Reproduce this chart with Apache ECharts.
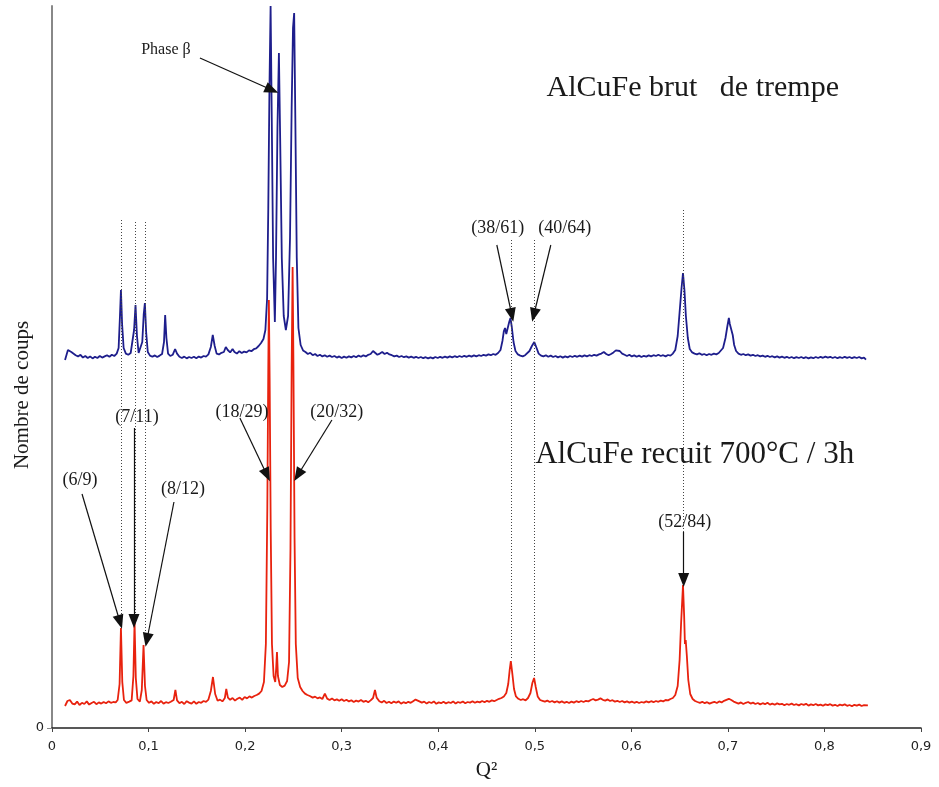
<!DOCTYPE html>
<html>
<head>
<meta charset="utf-8">
<script src="https://cdn.jsdelivr.net/npm/echarts@6/dist/echarts.min.js"></script>
<style>html,body{margin:0;padding:0;background:#fff}#c{width:939px;height:787px}</style>
</head>
<body>
<div id="c"></div>
<script>
// ---------- data ----------
const xTickLabels = ['0','0,1','0,2','0,3','0,4','0,5','0,6','0,7','0,8','0,9'];

// AlCuFe recuit 700°C / 3h (red)
const redQ = [0.0135,0.0160,0.0185,0.0210,0.0235,0.0260,0.0285,0.0310,0.0335,0.0360,0.0385,0.0410,0.0435,0.0460,0.0485,0.0510,0.0535,0.0560,0.0585,0.0610,0.0635,0.0660,0.0680,0.0700,0.0714,0.0728,0.0745,0.0770,0.0800,0.0825,0.0843,0.0855,0.0868,0.0885,0.0910,0.0930,0.0948,0.0963,0.0980,0.1005,0.1030,0.1055,0.1080,0.1105,0.1130,0.1155,0.1180,0.1205,0.1230,0.1260,0.1278,0.1295,0.1320,0.1345,0.1370,0.1395,0.1420,0.1445,0.1470,0.1495,0.1520,0.1545,0.1570,0.1595,0.1620,0.1645,0.1667,0.1690,0.1715,0.1740,0.1765,0.1790,0.1805,0.1822,0.1845,0.1870,0.1895,0.1920,0.1945,0.1970,0.1995,0.2020,0.2045,0.2070,0.2095,0.2120,0.2145,0.2170,0.2195,0.2215,0.2230,0.2240,0.2246,0.2254,0.2265,0.2278,0.2295,0.2312,0.2322,0.2330,0.2340,0.2360,0.2385,0.2410,0.2435,0.2455,0.2470,0.2482,0.2492,0.2500,0.2512,0.2525,0.2545,0.2570,0.2595,0.2620,0.2645,0.2670,0.2700,0.2725,0.2750,0.2775,0.2800,0.2826,0.2850,0.2875,0.2900,0.2925,0.2950,0.2975,0.3000,0.3025,0.3050,0.3075,0.3100,0.3125,0.3150,0.3175,0.3200,0.3225,0.3250,0.3275,0.3300,0.3325,0.3345,0.3362,0.3390,0.3415,0.3440,0.3465,0.3490,0.3515,0.3540,0.3565,0.3590,0.3615,0.3640,0.3665,0.3690,0.3715,0.3740,0.3765,0.3785,0.3805,0.3830,0.3855,0.3880,0.3905,0.3930,0.3955,0.3980,0.4005,0.4030,0.4055,0.4080,0.4105,0.4130,0.4155,0.4180,0.4205,0.4230,0.4255,0.4280,0.4305,0.4330,0.4355,0.4380,0.4405,0.4430,0.4455,0.4480,0.4505,0.4530,0.4555,0.4580,0.4605,0.4630,0.4655,0.4680,0.4705,0.4725,0.4740,0.4752,0.4768,0.4785,0.4805,0.4830,0.4855,0.4880,0.4905,0.4930,0.4955,0.4975,0.4993,0.5010,0.5030,0.5055,0.5080,0.5105,0.5130,0.5155,0.5180,0.5205,0.5230,0.5255,0.5280,0.5305,0.5330,0.5355,0.5380,0.5405,0.5430,0.5455,0.5480,0.5505,0.5530,0.5555,0.5580,0.5605,0.5630,0.5655,0.5680,0.5705,0.5730,0.5755,0.5780,0.5805,0.5830,0.5855,0.5880,0.5905,0.5930,0.5955,0.5980,0.6005,0.6030,0.6055,0.6080,0.6105,0.6130,0.6155,0.6180,0.6205,0.6230,0.6255,0.6280,0.6305,0.6330,0.6355,0.6380,0.6405,0.6430,0.6455,0.6480,0.6500,0.6515,0.6535,0.6547,0.6555,0.6563,0.6575,0.6590,0.6610,0.6635,0.6660,0.6685,0.6710,0.6735,0.6760,0.6785,0.6810,0.6835,0.6860,0.6885,0.6910,0.6935,0.6960,0.6985,0.7010,0.7035,0.7060,0.7085,0.7110,0.7135,0.7160,0.7185,0.7210,0.7235,0.7260,0.7285,0.7310,0.7335,0.7360,0.7385,0.7410,0.7435,0.7460,0.7485,0.7510,0.7535,0.7560,0.7585,0.7610,0.7635,0.7660,0.7685,0.7710,0.7735,0.7760,0.7785,0.7810,0.7835,0.7860,0.7885,0.7910,0.7935,0.7960,0.7985,0.8010,0.8035,0.8060,0.8085,0.8110,0.8135,0.8160,0.8185,0.8210,0.8235,0.8260,0.8285,0.8310,0.8335,0.8360,0.8385,0.8410,0.8430,0.8450];
const redCounts = [110,135,140,122,118,132,115,126,120,133,117,125,131,119,128,122,130,124,133,126,130,128,140,220,500,230,140,126,132,138,260,530,250,145,132,190,415,210,140,126,133,121,130,124,135,122,129,125,131,140,190,138,124,131,120,134,127,122,133,121,130,126,135,131,142,185,255,170,136,142,133,150,195,152,141,150,137,146,152,141,155,148,158,152,160,165,172,185,230,420,1100,1800,2140,1750,1000,420,260,230,300,380,260,215,205,212,235,330,900,1800,2305,1850,950,420,250,205,185,172,165,160,152,157,148,153,145,172,147,140,148,138,143,136,144,135,141,133,139,130,137,132,140,131,136,129,138,150,190,152,134,128,136,125,131,124,132,126,133,122,129,124,131,126,134,142,150,133,127,132,122,130,125,133,121,128,124,131,123,129,125,133,122,130,126,132,124,130,127,134,126,132,128,135,129,136,131,138,134,140,146,150,158,175,220,290,335,270,195,158,146,140,144,138,150,175,225,250,205,158,140,136,132,137,130,135,128,134,127,133,126,131,125,132,127,134,129,135,130,136,133,140,145,138,142,148,141,137,143,135,139,132,136,130,135,128,133,127,132,126,131,125,130,127,133,128,134,129,135,131,137,133,140,138,145,150,165,210,340,520,715,560,420,440,360,240,170,145,135,130,126,131,124,129,122,127,131,125,133,128,136,141,146,140,132,127,122,128,120,126,130,122,127,120,125,118,124,119,126,117,122,116,123,118,121,114,120,116,122,115,119,113,120,116,121,112,118,114,120,113,117,111,118,114,119,112,116,110,117,113,118,111,115,109,116,112,117,110,114,108,113,110];

// AlCuFe brut de trempe (blue)
const blueQ = [0.0135,0.0150,0.0165,0.0180,0.0200,0.0220,0.0245,0.0270,0.0295,0.0320,0.0345,0.0370,0.0395,0.0420,0.0445,0.0470,0.0495,0.0520,0.0545,0.0570,0.0595,0.0620,0.0645,0.0670,0.0690,0.0703,0.0714,0.0726,0.0742,0.0765,0.0790,0.0815,0.0835,0.0850,0.0865,0.0880,0.0897,0.0915,0.0935,0.0950,0.0962,0.0975,0.0992,0.1015,0.1040,0.1065,0.1090,0.1115,0.1140,0.1160,0.1172,0.1185,0.1202,0.1225,0.1250,0.1275,0.1295,0.1320,0.1345,0.1370,0.1395,0.1420,0.1445,0.1470,0.1495,0.1520,0.1545,0.1570,0.1595,0.1620,0.1645,0.1665,0.1685,0.1705,0.1730,0.1755,0.1780,0.1800,0.1820,0.1845,0.1870,0.1890,0.1915,0.1940,0.1965,0.1990,0.2015,0.2040,0.2065,0.2090,0.2115,0.2140,0.2165,0.2190,0.2210,0.2228,0.2240,0.2252,0.2264,0.2276,0.2290,0.2308,0.2320,0.2335,0.2350,0.2363,0.2380,0.2400,0.2422,0.2445,0.2465,0.2482,0.2496,0.2508,0.2520,0.2535,0.2552,0.2575,0.2600,0.2625,0.2650,0.2675,0.2700,0.2725,0.2750,0.2775,0.2800,0.2825,0.2850,0.2875,0.2900,0.2925,0.2950,0.2975,0.3000,0.3025,0.3050,0.3075,0.3100,0.3125,0.3150,0.3175,0.3200,0.3225,0.3250,0.3275,0.3300,0.3325,0.3345,0.3370,0.3395,0.3420,0.3445,0.3470,0.3495,0.3520,0.3545,0.3570,0.3595,0.3620,0.3645,0.3670,0.3695,0.3720,0.3745,0.3770,0.3795,0.3820,0.3845,0.3870,0.3895,0.3920,0.3945,0.3970,0.3995,0.4020,0.4045,0.4070,0.4095,0.4120,0.4145,0.4170,0.4195,0.4220,0.4245,0.4270,0.4295,0.4320,0.4345,0.4370,0.4395,0.4420,0.4445,0.4470,0.4495,0.4520,0.4545,0.4570,0.4595,0.4620,0.4645,0.4665,0.4680,0.4692,0.4705,0.4718,0.4735,0.4748,0.4762,0.4780,0.4800,0.4825,0.4850,0.4875,0.4900,0.4920,0.4945,0.4970,0.4995,0.5015,0.5040,0.5065,0.5090,0.5115,0.5140,0.5165,0.5190,0.5215,0.5240,0.5265,0.5290,0.5315,0.5340,0.5365,0.5390,0.5415,0.5440,0.5465,0.5490,0.5515,0.5540,0.5565,0.5590,0.5615,0.5640,0.5665,0.5690,0.5715,0.5740,0.5765,0.5790,0.5815,0.5840,0.5860,0.5880,0.5905,0.5930,0.5955,0.5980,0.6005,0.6030,0.6055,0.6080,0.6105,0.6130,0.6155,0.6180,0.6205,0.6230,0.6255,0.6280,0.6305,0.6330,0.6355,0.6380,0.6405,0.6430,0.6455,0.6480,0.6500,0.6520,0.6535,0.6550,0.6565,0.6585,0.6605,0.6630,0.6655,0.6680,0.6705,0.6730,0.6755,0.6780,0.6805,0.6830,0.6855,0.6880,0.6905,0.6925,0.6950,0.6975,0.6995,0.7010,0.7020,0.7035,0.7050,0.7065,0.7085,0.7110,0.7135,0.7160,0.7185,0.7210,0.7235,0.7260,0.7285,0.7310,0.7335,0.7360,0.7385,0.7410,0.7435,0.7460,0.7485,0.7510,0.7535,0.7560,0.7585,0.7610,0.7635,0.7660,0.7685,0.7710,0.7735,0.7760,0.7785,0.7810,0.7835,0.7860,0.7885,0.7910,0.7935,0.7960,0.7985,0.8010,0.8035,0.8060,0.8085,0.8110,0.8135,0.8160,0.8185,0.8210,0.8235,0.8260,0.8285,0.8310,0.8335,0.8360,0.8385,0.8410,0.8430,0.8450];
const blueCounts = [1840,1865,1890,1895,1880,1872,1864,1858,1866,1852,1860,1850,1858,1848,1856,1850,1860,1852,1858,1864,1856,1866,1860,1872,1900,2050,2190,2020,1900,1872,1866,1875,1885,1990,2115,1960,1875,1870,1930,2070,2125,1980,1880,1862,1856,1863,1855,1862,1870,1930,2065,1950,1872,1860,1866,1895,1872,1856,1850,1857,1848,1855,1850,1856,1849,1857,1852,1860,1857,1868,1905,1965,1910,1872,1868,1876,1880,1905,1890,1878,1895,1880,1872,1884,1875,1882,1878,1888,1884,1894,1898,1910,1925,1945,1990,2150,2600,3200,3610,3050,2350,2030,2350,3000,3375,2950,2350,2060,1990,2060,2450,3100,3500,3575,3050,2350,2000,1915,1888,1880,1870,1876,1864,1870,1860,1866,1858,1864,1856,1862,1855,1860,1852,1858,1850,1857,1851,1858,1853,1860,1854,1862,1856,1864,1858,1866,1870,1885,1878,1866,1872,1880,1870,1876,1868,1864,1858,1862,1855,1860,1854,1858,1852,1857,1851,1856,1850,1855,1849,1854,1848,1853,1848,1855,1850,1856,1851,1857,1852,1858,1853,1859,1854,1860,1855,1861,1856,1862,1857,1863,1858,1864,1860,1866,1862,1868,1864,1870,1866,1875,1890,1935,1985,2000,1970,1975,2030,2050,2005,1930,1885,1868,1862,1858,1864,1870,1885,1910,1930,1905,1872,1862,1858,1864,1856,1862,1855,1860,1853,1859,1852,1858,1853,1860,1855,1861,1856,1862,1857,1863,1858,1864,1860,1866,1862,1868,1872,1880,1870,1864,1870,1878,1888,1895,1885,1872,1866,1860,1866,1858,1863,1856,1862,1855,1861,1857,1863,1858,1864,1860,1866,1860,1864,1858,1865,1862,1872,1890,1960,2080,2200,2275,2190,2060,1950,1895,1878,1872,1868,1874,1866,1870,1864,1870,1866,1872,1868,1875,1882,1900,1950,2010,2050,2020,2010,1965,1915,1885,1872,1866,1870,1864,1868,1862,1866,1860,1864,1858,1862,1856,1861,1855,1859,1853,1858,1852,1857,1851,1856,1850,1855,1849,1854,1850,1855,1849,1854,1848,1853,1849,1855,1850,1856,1851,1857,1852,1856,1850,1855,1849,1854,1850,1856,1851,1855,1849,1854,1850,1855,1848,1852,1842];

// annotations (data coordinates: [Q², counts])
const guideLines = [ // dotted vertical guides: Q², top, bottom
  [0.0714, 2540, 510], [0.0865, 2530, 530], [0.0962, 2530, 420],
  [0.4752, 2440, 340], [0.4995, 2440, 260], [0.6535, 2590, 740]
];
const arrows = [ // from [Q², counts] to [Q², counts]
  [[0.1532, 3350], [0.2277, 3190]],
  [[0.0311, 1170], [0.0704, 530]],
  [[0.0849, 1500], [0.0849, 535]],
  [[0.1263, 1130], [0.0983, 440]],
  [[0.1946, 1550], [0.2226, 1265]],
  [[0.2899, 1540], [0.2547, 1265]],
  [[0.4607, 2415], [0.4762, 2065]],
  [[0.5166, 2415], [0.4990, 2065]],
  [[0.6542, 980], [0.6542, 740]]
];
const peakLabels = [ // text, Q², counts, size
  ['Phase β', 0.1180, 3390, 16],
  ['(6/9)', 0.0290, 1240, 18],
  ['(7/11)', 0.0880, 1555, 18],
  ['(8/12)', 0.1356, 1195, 18],
  ['(18/29)', 0.1967, 1580, 18],
  ['(20/32)', 0.2950, 1580, 18],
  ['(38/61)', 0.4617, 2500, 18],
  ['(40/64)', 0.5311, 2500, 18],
  ['(52/84)', 0.6553, 1030, 18],
  ['AlCuFe brut   de trempe', 0.6636, 3200, 30],
  ['AlCuFe recuit 700°C / 3h', 0.6656, 1365, 31]
];

// ---------- chart ----------
const serif = '"Liberation Serif", "DejaVu Serif", serif';
const chart = echarts.init(document.getElementById('c'), null, {renderer: 'canvas'});
const redData = redQ.map((q, i) => [q, redCounts[i]]);
const blueData = blueQ.map((q, i) => [q, blueCounts[i]]);

const markLineData = [];
guideLines.forEach(g => {
  markLineData.push([
    {coord: [g[0], g[1]], symbol: 'none', lineStyle: {type: [1, 2], color: '#444', width: 1}},
    {coord: [g[0], g[2]], symbol: 'none'}
  ]);
});
arrows.forEach(a => {
  markLineData.push([
    {coord: a[0], symbol: 'none', lineStyle: {type: 'solid', color: '#111', width: 1.2}},
    {coord: a[1], symbol: 'triangle', symbolSize: [11, 14]}
  ]);
});

const markPointData = peakLabels.map(p => ({
  coord: [p[1], p[2]],
  symbol: 'circle',
  symbolSize: 1,
  itemStyle: {color: 'rgba(0,0,0,0)'},
  label: {show: true, position: 'inside', formatter: p[0], fontFamily: serif, fontSize: p[3], color: '#1a1a1a'}
}));

chart.setOption({
  animation: false,
  backgroundColor: '#fff',
  grid: {left: 52, right: 18, top: 6, bottom: 59, containLabel: false, outerBoundsMode: 'none'},
  xAxis: {
    type: 'value', min: 0, max: 0.9, interval: 0.1,
    name: 'Q²', nameLocation: 'middle', nameGap: 32,
    nameTextStyle: {fontFamily: serif, fontSize: 21, color: '#1a1a1a'},
    axisLine: {lineStyle: {color: '#222', width: 1.5}},
    axisTick: {show: true, inside: false, length: 4, lineStyle: {color: '#444'}},
    axisLabel: {
      formatter: v => xTickLabels[Math.round(v * 10)],
      fontFamily: '"DejaVu Sans", sans-serif', fontSize: 13, color: '#222', margin: 12
    },
    splitLine: {show: false}
  },
  yAxis: {
    type: 'value', min: 0, max: 3610,
    axisLine: {show: true, lineStyle: {color: '#888', width: 2}},
    axisTick: {show: true, customValues: [0], length: 5, lineStyle: {color: '#888'}},
    axisLabel: {customValues: [0], formatter: v => String(v), fontFamily: '"DejaVu Sans", sans-serif', fontSize: 13, color: '#222', margin: 8},
    splitLine: {show: false}
  },
  graphic: [{
    type: 'text', x: 22, y: 395, rotation: Math.PI / 2,
    style: {text: 'Nombre de coups', font: '21px ' + serif, fill: '#1a1a1a', textAlign: 'center', textVerticalAlign: 'middle'}
  }],
  series: [
    {
      name: 'AlCuFe recuit 700°C / 3h', type: 'line', data: redData,
      showSymbol: false, symbol: 'none', clip: false,
      lineStyle: {color: '#e8220e', width: 1.8}, z: 2
    },
    {
      name: 'AlCuFe brut de trempe', type: 'line', data: blueData,
      showSymbol: false, symbol: 'none', clip: false,
      lineStyle: {color: '#1e1e8c', width: 1.8}, z: 3,
      markLine: {silent: true, symbol: 'none', label: {show: false}, data: markLineData, animation: false},
      markPoint: {silent: true, data: markPointData, animation: false}
    }
  ]
});
</script>
</body>
</html>
